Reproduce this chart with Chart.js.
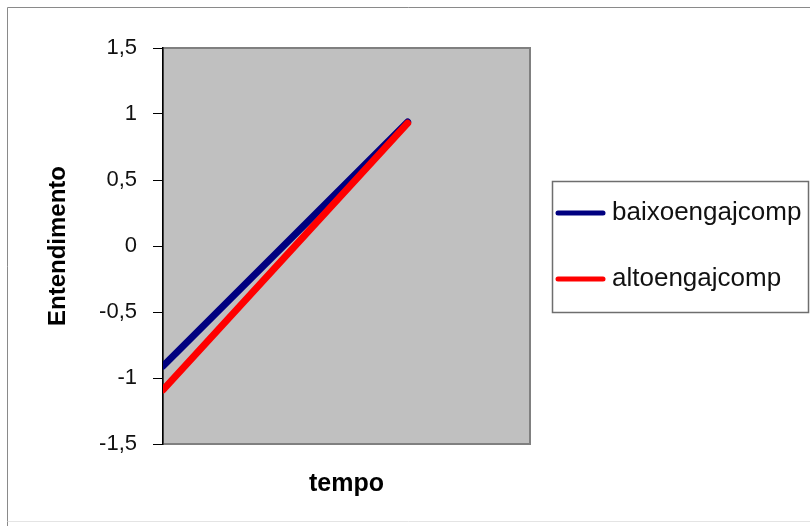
<!DOCTYPE html>
<html>
<head>
<meta charset="utf-8">
<script src="https://cdn.jsdelivr.net/npm/chart.js@4"></script>
<style>
  html, body { margin: 0; padding: 0; background: #fff; }
  #wrap { width: 810px; height: 526px; }
</style>
</head>
<body>
<div id="wrap"><canvas id="chart" width="810" height="526"></canvas></div>
<script>
// data
const tempo = [0, 1];
const baixoengajcomp = [-0.91, 0.94];
const altoengajcomp = [-1.09, 0.93];
const seriesNames = ['baixoengajcomp', 'altoengajcomp'];
const seriesColors = ['#000080', '#ff0000'];

const FONT = "'Liberation Sans', Arial, sans-serif";

// gray plot background + frame, outer border, legend box
const decor = {
    id: 'decor',
    beforeDraw(chart) {
        const ctx = chart.ctx;
        const a = chart.chartArea;
        ctx.save();
        // outer frame
        ctx.strokeStyle = '#8a8a8a';
        ctx.lineWidth = 1;
        ctx.beginPath();
        ctx.moveTo(7.5, 526);
        ctx.lineTo(7.5, 7.5);
        ctx.lineTo(810, 7.5);
        ctx.stroke();
        ctx.strokeStyle = '#e4e4e4';
        ctx.beginPath();
        ctx.moveTo(7.5, 521.5);
        ctx.lineTo(810, 521.5);
        ctx.stroke();
        // plot area
        ctx.fillStyle = '#c0c0c0';
        ctx.fillRect(a.left, a.top, a.right - a.left, a.bottom - a.top);
        ctx.strokeStyle = '#808080';
        ctx.lineWidth = 2;
        ctx.strokeRect(a.left, a.top, a.right - a.left, a.bottom - a.top);
        ctx.restore();
    },
    afterDraw(chart) {
        const ctx = chart.ctx;
        ctx.save();
        ctx.fillStyle = '#fff';
        ctx.strokeStyle = '#6e6e6e';
        ctx.lineWidth = 1.5;
        ctx.fillRect(552.5, 181.5, 256, 131);
        ctx.strokeRect(552.5, 181.5, 256, 131);
        const rows = [213, 279];
        chart.data.datasets.forEach(function (ds, i) {
            const y = rows[i];
            ctx.strokeStyle = ds.borderColor;
            ctx.lineWidth = 5;
            ctx.lineCap = 'round';
            ctx.beginPath();
            ctx.moveTo(558, y);
            ctx.lineTo(603, y);
            ctx.stroke();
            ctx.fillStyle = '#111';
            ctx.font = '26px ' + FONT;
            ctx.textBaseline = 'middle';
            ctx.textAlign = 'left';
            ctx.fillText(ds.label, 612, y);
        });
        ctx.restore();
    }
};

const ctx = document.getElementById('chart').getContext('2d');
new Chart(ctx, {
    type: 'line',
    data: {
        datasets: [{
            label: seriesNames[0],
            data: tempo.map((t, i) => ({x: t, y: baixoengajcomp[i]})),
            borderColor: seriesColors[0],
            backgroundColor: seriesColors[0],
            borderWidth: 7,
            borderCapStyle: 'round',
            pointRadius: 0,
            fill: false,
            order: 1
        }, {
            label: seriesNames[1],
            data: tempo.map((t, i) => ({x: t, y: altoengajcomp[i]})),
            borderColor: seriesColors[1],
            backgroundColor: seriesColors[1],
            borderWidth: 7,
            borderCapStyle: 'round',
            pointRadius: 0,
            fill: false,
            order: 0
        }]
    },
    options: {
        responsive: false,
        animation: false,
        layout: {
            padding: {left: 0, top: 48, right: 280, bottom: 0}
        },
        plugins: {
            legend: {display: false},
            tooltip: {enabled: false}
        },
        scales: {
            x: {
                type: 'linear',
                min: 0,
                max: 1.5,
                ticks: {display: false},
                grid: {display: false},
                border: {display: false},
                title: {
                    display: true,
                    text: 'tempo',
                    color: '#000',
                    font: {family: FONT, size: 25, weight: 'bold'},
                    padding: {top: 0, bottom: 27}
                },
                afterFit: function (scale) { scale.height = 82; }
            },
            y: {
                min: -1.5,
                max: 1.5,
                ticks: {
                    stepSize: 0.5,
                    padding: 16,
                    color: '#111',
                    font: {family: FONT, size: 22},
                    callback: function (v) { return String(v).replace('.', ','); }
                },
                grid: {
                    drawOnChartArea: false,
                    color: '#000',
                    tickLength: 10
                },
                border: {color: '#000', width: 1.5},
                title: {
                    display: true,
                    text: 'Entendimento',
                    color: '#000',
                    font: {family: FONT, size: 24, weight: 'bold'},
                    padding: {top: 44, bottom: 0}
                },
                afterFit: function (scale) { scale.width = 163; }
            }
        }
    },
    plugins: [decor]
});
</script>
</body>
</html>
